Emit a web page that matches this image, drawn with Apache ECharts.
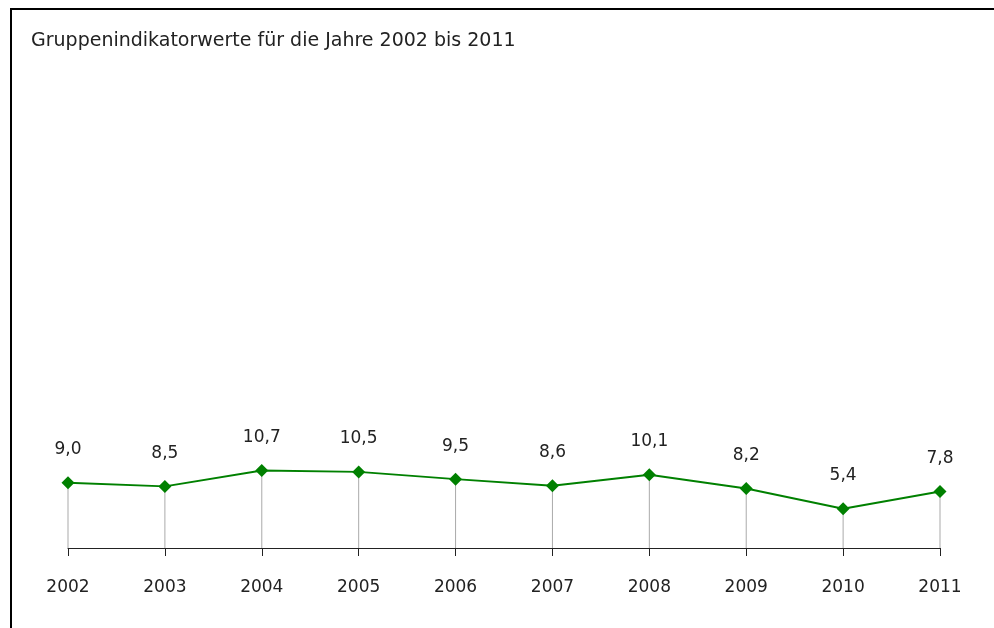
<!DOCTYPE html>
<html><head><meta charset="utf-8">
<script src="https://cdn.jsdelivr.net/npm/echarts@6/dist/echarts.min.js"></script>
<style>html,body{margin:0;padding:0;background:#fff}#c{width:994px;height:628px}</style>
</head><body><div id="c"></div>
<script>
const titleText = "Gruppenindikatorwerte für die Jahre 2002 bis 2011";
const years = ["2002","2003","2004","2005","2006","2007","2008","2009","2010","2011"];
const values = [9.0, 8.5, 10.7, 10.5, 9.5, 8.6, 10.1, 8.2, 5.4, 7.8];

const FONT = 'DejaVu Sans';
const chart = echarts.init(document.getElementById('c'));
const fmt = v => v.toFixed(1).replace('.', ',');
chart.setOption({
  animation: false,
  backgroundColor: '#fff',
  textStyle: { fontFamily: FONT },
  title: {
    text: titleText, left: 26, top: 27,
    textStyle: { fontSize: 19, fontWeight: 'normal', color: '#222', fontFamily: FONT }
  },
  graphic: [{
    type: 'rect', shape: { x: 11, y: 9, width: 1100, height: 700 },
    style: { fill: 'none', stroke: '#000', lineWidth: 2 }, z: 100
  }],
  grid: { left: 68, right: 54, top: 113, bottom: 80 },
  xAxis: {
    type: 'category', data: years, boundaryGap: false,
    axisLine: { lineStyle: { color: '#222', width: 1 } },
    axisTick: { show: true, length: 8, lineStyle: { color: '#222' } },
    axisLabel: { fontSize: 17, color: '#222', margin: 31, fontFamily: FONT },
    splitLine: { show: false }
  },
  yAxis: {
    type: 'value', min: 0, max: 60, show: false, splitLine: { show: false }
  },
  series: [
    {
      type: 'bar', data: values, barWidth: 1, silent: true,
      itemStyle: { color: '#aaaaaa' }, z: 1
    },
    {
      type: 'line', data: values, symbol: 'diamond', symbolSize: 13,
      lineStyle: { color: '#008000', width: 2 },
      itemStyle: { color: '#008000' }, z: 3,
      label: {
        show: true, position: 'top', distance: 18, fontSize: 17, color: '#222',
        fontFamily: FONT, formatter: p => fmt(p.value)
      }
    }
  ]
});
</script></body></html>
